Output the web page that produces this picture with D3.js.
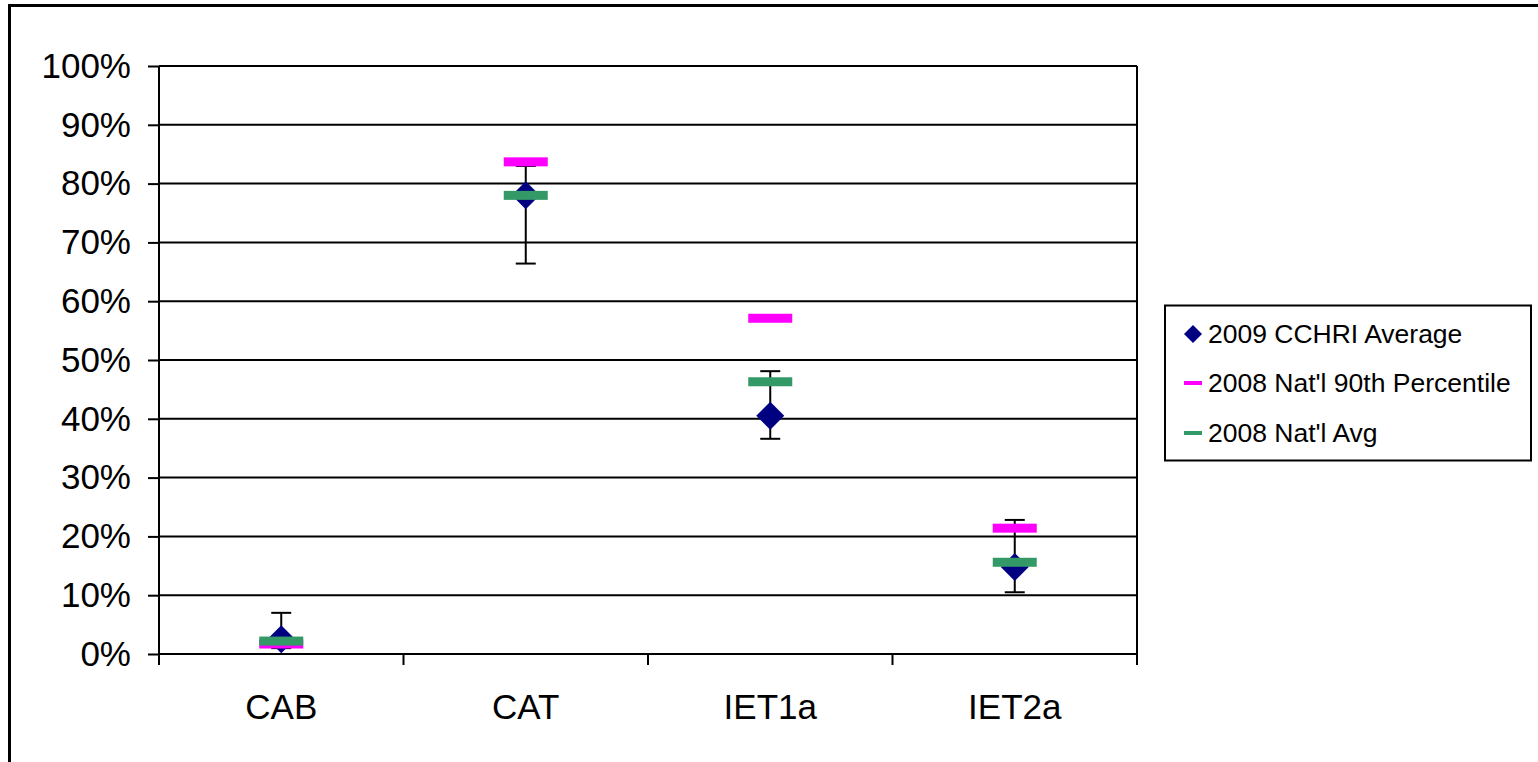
<!DOCTYPE html>
<html>
<head>
<meta charset="utf-8">
<script src="https://cdn.jsdelivr.net/npm/d3@7"></script>
<style>
  html, body { margin: 0; padding: 0; background: #fff; }
  svg { display: block; font-family: Arial, "Liberation Sans", sans-serif; }
</style>
</head>
<body>
<svg id="chart" width="1538" height="762"></svg>
<script>
const categories = ["CAB", "CAT", "IET1a", "IET2a"];
const cchriAvg   = [0.025, 0.780, 0.405, 0.148];
const errLow     = [0.010, 0.664, 0.366, 0.105];
const errHigh    = [0.070, 0.830, 0.481, 0.228];
const nat90      = [0.017, 0.837, 0.571, 0.214];
const natAvg     = [0.022, 0.780, 0.463, 0.156];
const yTicks     = [0, 0.1, 0.2, 0.3, 0.4, 0.5, 0.6, 0.7, 0.8, 0.9, 1.0];
const legendLabels = ["2009 CCHRI Average", "2008 Nat'l 90th Percentile", "2008 Nat'l Avg"];

(function () {
const colors = { avg: "#000080", p90: "#FF00FF", nat: "#339966" };

const svg = d3.select("#chart");
const pLeft = 159, pRight = 1137, pTop = 66, pBottom = 654;

const x = d3.scaleBand().domain(categories).range([pLeft, pRight]).padding(0);
const y = d3.scaleLinear().domain([0, 1]).range([pBottom, pTop]);

// outer border
svg.append("rect").attr("x", 9.5).attr("y", 5.5).attr("width", 1545).attr("height", 780)
  .attr("fill", "none").attr("stroke", "#000").attr("stroke-width", 3);

// gridlines
svg.append("g").selectAll("line").data(yTicks.filter(d => d > 0)).join("line")
  .attr("x1", pLeft).attr("x2", pRight)
  .attr("y1", d => y(d)).attr("y2", d => y(d))
  .attr("stroke", "#000").attr("stroke-width", 2);

// right border of plot area
svg.append("line").attr("x1", pRight).attr("x2", pRight).attr("y1", pTop).attr("y2", pBottom)
  .attr("stroke", "#000").attr("stroke-width", 2);

// y axis
const yAxis = d3.axisLeft(y).tickValues(yTicks).tickFormat(d3.format(".0%")).tickSize(11).tickPadding(17);
const gy = svg.append("g").attr("transform", `translate(${pLeft},0)`).call(yAxis);
gy.select(".domain").attr("stroke", "#000").attr("stroke-width", 2).attr("d", `M0,${pTop}V${pBottom}`);
gy.selectAll(".tick line").attr("stroke", "#000").attr("stroke-width", 2);
gy.selectAll(".tick text").attr("font-size", 35).attr("font-family", "Arial, 'Liberation Sans', sans-serif").attr("fill", "#000");

// x axis
const xAxis = d3.axisBottom(x).tickSize(0).tickPadding(40);
const gx = svg.append("g").attr("transform", `translate(0,${pBottom})`).call(xAxis);
gx.select(".domain").attr("stroke", "#000").attr("stroke-width", 2).attr("d", `M${pLeft},0H${pRight}`);
gx.selectAll(".tick text").attr("font-size", 35).attr("font-family", "Arial, 'Liberation Sans', sans-serif").attr("fill", "#000");
// x tick marks at category boundaries
const bounds = categories.map(c => x(c)).concat([x(categories[categories.length - 1]) + x.bandwidth()]);
svg.append("g").selectAll("line").data(bounds).join("line")
  .attr("x1", d => d).attr("x2", d => d).attr("y1", pBottom).attr("y2", pBottom + 11)
  .attr("stroke", "#000").attr("stroke-width", 2);

const cx = c => x(c) + x.bandwidth() / 2;

// error bars
const eg = svg.append("g");
categories.forEach((c, i) => {
  const xc = cx(c);
  eg.append("line").attr("x1", xc).attr("x2", xc).attr("y1", y(errLow[i])).attr("y2", y(errHigh[i]))
    .attr("stroke", "#000").attr("stroke-width", 2);
  [errLow[i], errHigh[i]].forEach(v => {
    eg.append("line").attr("x1", xc - 10).attr("x2", xc + 10).attr("y1", y(v)).attr("y2", y(v))
      .attr("stroke", "#000").attr("stroke-width", 2);
  });
});

// diamonds
const dSize = 14;
svg.append("g").selectAll("path").data(categories).join("path")
  .attr("d", (c, i) => {
    const xc = cx(c), yc = y(cchriAvg[i]);
    return `M${xc},${yc - dSize}L${xc + dSize},${yc}L${xc},${yc + dSize}L${xc - dSize},${yc}Z`;
  })
  .attr("fill", colors.avg);

// dash markers
function dashes(values, color) {
  svg.append("g").selectAll("rect").data(categories).join("rect")
    .attr("x", c => cx(c) - 22).attr("width", 44)
    .attr("y", (c, i) => y(values[i]) - 4.5).attr("height", 9)
    .attr("fill", color);
}
dashes(nat90, colors.p90);
dashes(natAvg, colors.nat);

// legend
const lg = svg.append("g");
lg.append("rect").attr("x", 1165).attr("y", 305.5).attr("width", 366).attr("height", 155)
  .attr("fill", "#fff").attr("stroke", "#000").attr("stroke-width", 2);
const ly = [334, 383, 433];
legendLabels.forEach((t, i) => {
  const yy = ly[i];
  if (i === 0) {
    lg.append("path").attr("d", `M1193,${yy - 9}L1202,${yy}L1193,${yy + 9}L1184,${yy}Z`).attr("fill", colors.avg);
  } else {
    lg.append("rect").attr("x", 1184).attr("y", yy - 2).attr("width", 18).attr("height", 4)
      .attr("fill", i === 1 ? colors.p90 : colors.nat);
  }
  lg.append("text").attr("x", 1208).attr("y", yy).attr("dy", "0.35em")
    .attr("font-size", 26.5).attr("fill", "#000").text(t);
});
})();
</script>
</body>
</html>
